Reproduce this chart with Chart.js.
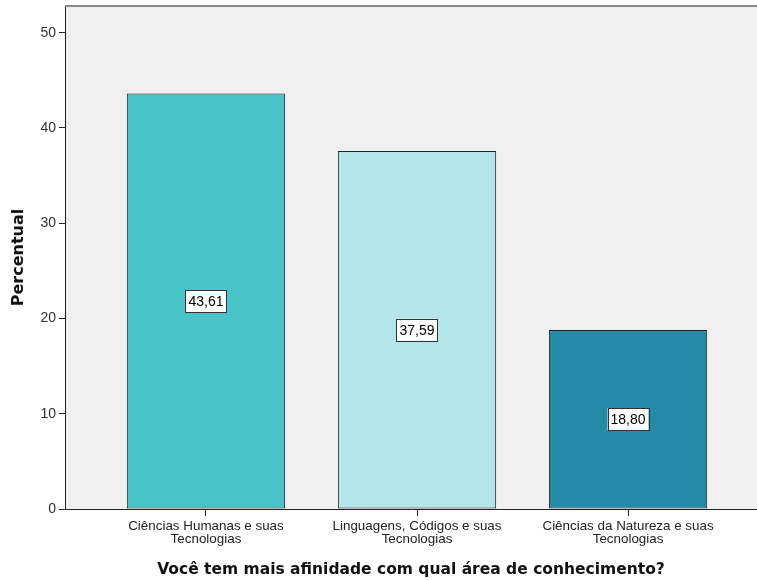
<!DOCTYPE html>
<html lang="pt">
<head>
    <meta charset="UTF-8">
    <title>Afinidade por área de conhecimento</title>
    <style>
        body {
            margin: 0;
            background-color: #ffffff;
        }

        #wrap {
            width: 757px;
            height: 580px;
            position: relative;
        }
    </style>
</head>
<body>
    <div id="wrap"><canvas id="areaChart"></canvas></div>

    <script src="https://cdn.jsdelivr.net/npm/chart.js"></script>
    <script>
        // dados
        const categorias = [
            ['Ciências Humanas e suas', 'Tecnologias'],
            ['Linguagens, Códigos e suas', 'Tecnologias'],
            ['Ciências da Natureza e suas', 'Tecnologias']
        ];
        const percentuais = [43.61, 37.59, 18.80];
        const coresBarras = ['#48c4c8', '#b3e6e8', '#248aa8'];
        const ticksY = [0, 10, 20, 30, 40, 50];
        const posicoes = [1, 2, 3];

        // fundo cinza e linha superior da área do gráfico
        const fundoPlot = {
            id: 'fundoPlot',
            beforeDraw(chart) {
                const { ctx, chartArea: a } = chart;
                ctx.save();
                ctx.fillStyle = '#f0f0f0';
                ctx.fillRect(a.left, a.top, a.right - a.left, a.bottom - a.top);
                ctx.restore();
            },
            afterDraw(chart) {
                const { ctx, chartArea: a } = chart;
                ctx.save();
                ctx.strokeStyle = '#888888';
                ctx.lineWidth = 2;
                ctx.beginPath();
                ctx.moveTo(a.left, a.top);
                ctx.lineTo(a.right, a.top);
                ctx.stroke();
                ctx.restore();
            }
        };

        // rótulos com caixa branca no meio de cada barra
        const rotulos = {
            id: 'rotulos',
            afterDatasetsDraw(chart) {
                const { ctx } = chart;
                const meta = chart.getDatasetMeta(0);
                ctx.save();
                ctx.font = '14px "Liberation Sans", Arial, sans-serif';
                ctx.textAlign = 'center';
                ctx.textBaseline = 'middle';
                meta.data.forEach((bar, i) => {
                    const txt = percentuais[i].toFixed(2).replace('.', ',');
                    const cy = (bar.y + bar.base) / 2;
                    const w = ctx.measureText(txt).width + 6;
                    const h = 22;
                    ctx.fillStyle = '#ffffff';
                    ctx.fillRect(bar.x - w / 2, cy - h / 2, w, h);
                    ctx.strokeStyle = '#333333';
                    ctx.lineWidth = 1;
                    ctx.strokeRect(Math.round(bar.x - w / 2) + 0.5, Math.round(cy - h / 2) + 0.5, Math.round(w), h);
                    ctx.fillStyle = '#000000';
                    ctx.fillText(txt, bar.x, cy + 1);
                });
                ctx.restore();
            }
        };

        const chart = new Chart(document.getElementById('areaChart').getContext('2d'), {
            type: 'bar',
            data: {
                datasets: [{
                    data: posicoes.map((p, i) => ({ x: p, y: percentuais[i] })),
                    backgroundColor: coresBarras,
                    borderColor: '#222222',
                    borderWidth: 1,
                    borderSkipped: false,
                    barPercentage: 0.75,
                    categoryPercentage: 1
                }]
            },
            options: {
                responsive: true,
                maintainAspectRatio: false,
                animation: false,
                layout: { padding: { top: 6, right: 0, left: 0, bottom: 0 } },
                plugins: {
                    legend: { display: false },
                    tooltip: { enabled: false }
                },
                scales: {
                    x: {
                        type: 'linear',
                        offset: false,
                        min: 0.332,
                        max: 3.611,
                        afterBuildTicks: (s) => { s.ticks = posicoes.map(v => ({ value: v })); },
                        afterFit: (s) => { s.height = 71; s.paddingLeft = 0; s.paddingRight = 0; },
                        grid: {
                            display: true,
                            offset: false,
                            drawOnChartArea: false,
                            drawTicks: true,
                            tickLength: 7,
                            color: '#222222'
                        },
                        border: { display: true, color: '#222222' },
                        ticks: {
                            autoSkip: false,
                            maxRotation: 0,
                            padding: 3,
                            color: '#222222',
                            font: { family: '"Liberation Sans", Arial, sans-serif', size: 13.4, lineHeight: 1.03 },
                            callback: (v) => categorias[posicoes.indexOf(v)]
                        },
                        title: {
                            display: true,
                            text: 'Você tem mais afinidade com qual área de conhecimento?',
                            color: '#111111',
                            font: { family: '"DejaVu Sans", sans-serif', size: 15.5, weight: 'bold' },
                            padding: { top: 8, bottom: 1 }
                        }
                    },
                    y: {
                        min: 0,
                        max: 52.8,
                        afterBuildTicks: (s) => { s.ticks = ticksY.map(v => ({ value: v })); },
                        afterFit: (s) => { s.width = 65; s.paddingTop = 0; s.paddingBottom = 0; },
                        grid: {
                            display: true,
                            drawOnChartArea: false,
                            drawTicks: true,
                            tickLength: 6,
                            color: '#222222'
                        },
                        border: { display: true, color: '#222222' },
                        ticks: {
                            padding: 3,
                            color: '#333333',
                            font: { family: '"Liberation Sans", Arial, sans-serif', size: 14 }
                        },
                        title: {
                            display: true,
                            text: 'Percentual',
                            color: '#111111',
                            font: { family: '"DejaVu Sans", sans-serif', size: 16, weight: 'bold' },
                            padding: { top: 9, bottom: 0 }
                        }
                    }
                }
            },
            plugins: [fundoPlot, rotulos]
        });
    </script>
</body>
</html>
